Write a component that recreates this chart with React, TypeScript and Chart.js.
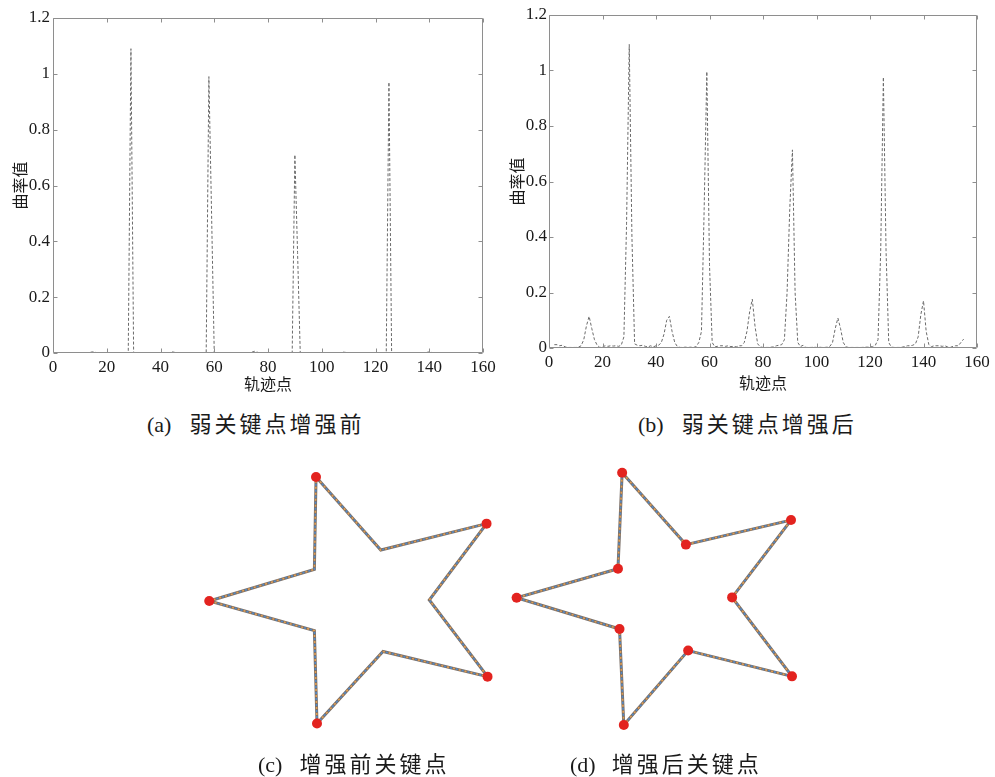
import React, { useEffect, useRef } from "react";
import { Chart, registerables } from "chart.js";
Chart.register(...registerables);

// ---------- data ----------
const X_TICKS = [0, 20, 40, 60, 80, 100, 120, 140, 160];
const Y_TICKS = [0, 0.2, 0.4, 0.6, 0.8, 1, 1.2];
const X_TITLE = "轨迹点";
const Y_TITLE = "曲率值";

// (a) curvature before enhancement, trajectory points 1..155
const CURVE_A_START = 1;
const CURVE_A = [
  0, 0, 0, 0, 0, 0, 0, 0, 0, 0,
  0, 0, 0, 0.003, 0.004, 0.002, 0, 0, 0, 0,
  0, 0, 0, 0, 0, 0, 0, 0, 1.09, 0,
  0, 0, 0, 0, 0, 0, 0, 0, 0, 0,
  0, 0, 0, 0.004, 0.003, 0, 0, 0, 0, 0,
  0, 0, 0, 0, 0, 0, 0, 0.99, 0.5, 0,
  0, 0, 0, 0, 0, 0, 0, 0, 0, 0,
  0, 0, 0, 0.003, 0.006, 0.003, 0, 0, 0, 0,
  0, 0, 0, 0, 0, 0, 0, 0, 0, 0.71,
  0.36, 0, 0, 0, 0, 0, 0, 0, 0, 0,
  0, 0, 0, 0, 0, 0, 0, 0.003, 0.002, 0,
  0, 0, 0, 0, 0, 0, 0, 0, 0, 0,
  0, 0, 0, 0, 0.97, 0, 0, 0, 0, 0,
  0, 0, 0, 0, 0, 0, 0, 0, 0.002, 0.004,
  0.002, 0, 0, 0, 0, 0, 0, 0, 0, 0,
  0, 0, 0, 0, 0,
];

// (b) curvature after enhancement, trajectory points 2..155
const CURVE_B_START = 2;
const CURVE_B = [
  0.012, 0.012, 0.008, 0.01, 0.004, 0.002, 0.002, 0.002, 0.002, 0.003,
  0.008, 0.03, 0.08, 0.114, 0.07, 0.03, 0.01, 0.002, 0.004, 0.008,
  0.006, 0.008, 0.007, 0.008, 0.006, 0.01, 0.04, 0.45, 1.094, 0.4,
  0.015, 0.01, 0.008, 0.01, 0.006, 0.004, 0.008, 0.004, 0.008, 0.01,
  0.02, 0.05, 0.1, 0.114, 0.06, 0.02, 0.005, 0.002, 0.002, 0.003,
  0.002, 0.003, 0.002, 0.005, 0.02, 0.06, 0.5, 0.996, 0.3, 0.02,
  0.004, 0.006, 0.008, 0.008, 0.006, 0.008, 0.005, 0.006, 0.004, 0.008,
  0.008, 0.02, 0.06, 0.13, 0.176, 0.08, 0.015, 0.004, 0.002, 0.002,
  0.002, 0.003, 0.004, 0.008, 0.01, 0.012, 0.03, 0.2, 0.5, 0.714,
  0.2, 0.02, 0.005, 0.01, 0.002, 0.002, 0.002, 0.003, 0.002, 0.003,
  0.002, 0.002, 0.003, 0.006, 0.02, 0.07, 0.108, 0.07, 0.02, 0.004,
  0.002, 0.002, 0.002, 0.002, 0.002, 0.002, 0.003, 0.003, 0.004, 0.005,
  0.01, 0.03, 0.35, 0.976, 0.35, 0.02, 0.003, 0.002, 0.002, 0.002,
  0.003, 0.005, 0.008, 0.008, 0.01, 0.015, 0.04, 0.12, 0.17, 0.06,
  0.012, 0.005, 0.008, 0.008, 0.008, 0.006, 0.008, 0.004, 0.002, 0.006,
  0.008, 0.008, 0.02, 0.032,
];

// star outlines (shape coordinates, y downward), vertices in order
const STAR_C_X = [135, 201.7, 310.7, 251.7, 311.7, 204, 136, 133.3, 25, 133.3];
const STAR_C_Y = [22.7, 98.3, 71, 150, 229.3, 203.3, 277.7, 181.7, 151, 118.3];
const STAR_C_KEYS = [0, 2, 4, 6, 8];

const STAR_D_X = [131, 196.7, 305, 244.3, 306, 199, 132.7, 128.3, 22.3, 126.7];
const STAR_D_Y = [18.3, 92.7, 67.3, 147.3, 229, 202.3, 279.3, 180, 147.7, 117.7];
const STAR_D_KEYS = [0, 1, 2, 3, 4, 5, 6, 7, 8, 9];

const CAPTIONS = [
  { tag: "(a)", text: "弱关键点增强前" },
  { tag: "(b)", text: "弱关键点增强后" },
  { tag: "(c)", text: "增强前关键点" },
  { tag: "(d)", text: "增强后关键点" },
];

// ---------- styling ----------
const SERIF = "'Liberation Serif', 'Times New Roman', serif";
const CJK = "'Noto Sans CJK SC', 'Noto Sans', sans-serif";

const framePlugin = {
  id: "frame",
  afterDatasetsDraw(chart: any) {
    const { ctx, chartArea: a, scales } = chart;
    const L = Math.round(a.left) + 0.5;
    const R = Math.round(a.right) - 0.5;
    const T = Math.round(a.top) + 0.5;
    const B = Math.round(a.bottom) - 0.5;
    const len = 4;
    ctx.save();
    ctx.strokeStyle = "#8e8e8e";
    ctx.lineWidth = 1;
    ctx.setLineDash([]);
    ctx.beginPath();
    ctx.rect(L, T, R - L, B - T);
    scales.x.ticks.forEach((t: any) => {
      const p = Math.round(scales.x.getPixelForValue(t.value)) + 0.5;
      ctx.moveTo(p, B);
      ctx.lineTo(p, B - len);
      ctx.moveTo(p, T);
      ctx.lineTo(p, T + len);
    });
    scales.y.ticks.forEach((t: any) => {
      const p = Math.round(scales.y.getPixelForValue(t.value)) + 0.5;
      ctx.moveTo(L, p);
      ctx.lineTo(L + len, p);
      ctx.moveTo(R, p);
      ctx.lineTo(R - len, p);
    });
    ctx.stroke();
    ctx.restore();
  },
};

type CurveProps = {
  left: number;
  top: number;
  width: number;
  height: number;
  start: number;
  values: number[];
  pad: { top: number; right: number; bottom: number };
  yWidth: number;
  xHeight: number;
  yTitlePad: number;
  xTitlePad: number;
  yTickPad: number;
  xTickPad: number;
  lineColor: string;
};

function CurveChart(p: CurveProps) {
  const ref = useRef<HTMLCanvasElement>(null);
  useEffect(() => {
    if (!ref.current) return;
    const pts = p.values.map((v, i) => ({ x: p.start + i, y: v }));
    const tickFont = { family: SERIF, size: 17 };
    const titleFont = { family: CJK, size: 16 };
    const chart = new Chart(ref.current, {
      type: "line",
      data: {
        datasets: [
          {
            data: pts,
            borderColor: p.lineColor,
            borderWidth: 1,
            borderDash: [3, 2],
            pointRadius: 0,
            tension: 0,
            fill: false,
          },
        ],
      },
      options: {
        animation: false,
        responsive: false,
        maintainAspectRatio: false,
        layout: { padding: { top: p.pad.top, right: p.pad.right, bottom: p.pad.bottom, left: 0 } },
        plugins: { legend: { display: false }, tooltip: { enabled: false } },
        scales: {
          x: {
            type: "linear",
            min: 0,
            max: 160,
            afterBuildTicks: (s: any) => {
              s.ticks = X_TICKS.map((v) => ({ value: v }));
            },
            ticks: {
              font: tickFont,
              color: "#1a1a1a",
              padding: p.xTickPad,
              maxRotation: 0,
              autoSkip: false,
              callback: (v: any) => String(v),
            },
            grid: { display: false, drawTicks: false },
            border: { display: false },
            title: {
              display: true,
              text: X_TITLE,
              font: titleFont,
              color: "#1a1a1a",
              padding: { top: 0, bottom: p.xTitlePad },
            },
            afterFit: (s: any) => {
              s.height = p.xHeight;
            },
          },
          y: {
            type: "linear",
            min: 0,
            max: 1.2,
            afterBuildTicks: (s: any) => {
              s.ticks = Y_TICKS.map((v) => ({ value: v }));
            },
            ticks: {
              font: tickFont,
              color: "#1a1a1a",
              padding: p.yTickPad,
              autoSkip: false,
              callback: (v: any) => String(v),
            },
            grid: { display: false, drawTicks: false },
            border: { display: false },
            title: {
              display: true,
              text: Y_TITLE,
              font: titleFont,
              color: "#1a1a1a",
              padding: { top: p.yTitlePad, bottom: 0 },
            },
            afterFit: (s: any) => {
              s.width = p.yWidth;
            },
          },
        },
      },
      plugins: [framePlugin],
    } as any);
    return () => chart.destroy();
  }, []);
  return (
    <canvas
      ref={ref}
      width={p.width}
      height={p.height}
      style={{ position: "absolute", left: p.left, top: p.top, width: p.width, height: p.height }}
    />
  );
}

type StarProps = {
  left: number;
  top: number;
  width: number;
  height: number;
  xs: number[];
  ys: number[];
  keys: number[];
};

function StarChart(p: StarProps) {
  const ref = useRef<HTMLCanvasElement>(null);
  useEffect(() => {
    if (!ref.current) return;
    const outline = p.xs.map((x, i) => ({ x, y: p.ys[i] }));
    outline.push({ x: p.xs[0], y: p.ys[0] });
    const keyPts = p.keys.map((k) => ({ x: p.xs[k], y: p.ys[k] }));
    const lineBase = { showLine: true, pointRadius: 0, tension: 0, fill: false };
    const chart = new Chart(ref.current, {
      type: "scatter",
      data: {
        datasets: [
          {
            data: keyPts,
            showLine: false,
            pointRadius: 5,
            pointBackgroundColor: "#e3231f",
            pointBorderColor: "#e3231f",
            pointBorderWidth: 0,
            order: 0,
          },
          {
            ...lineBase,
            data: outline,
            borderColor: "rgba(80,140,205,0.95)",
            borderWidth: 1.6,
            borderDash: [2, 4],
            borderDashOffset: 3,
            order: 1,
          },
          {
            ...lineBase,
            data: outline,
            borderColor: "rgba(232,160,80,0.95)",
            borderWidth: 1.6,
            borderDash: [2, 4],
            order: 2,
          },
          {
            ...lineBase,
            data: outline,
            borderColor: "#7c7068",
            borderWidth: 3,
            order: 3,
          },
        ],
      },
      options: {
        animation: false,
        responsive: false,
        maintainAspectRatio: false,
        layout: { padding: 0 },
        plugins: { legend: { display: false }, tooltip: { enabled: false } },
        scales: {
          x: { type: "linear", min: 0, max: p.width, display: false },
          y: { type: "linear", min: 0, max: p.height, reverse: true, display: false },
        },
      },
    } as any);
    return () => chart.destroy();
  }, []);
  return (
    <canvas
      ref={ref}
      width={p.width}
      height={p.height}
      style={{ position: "absolute", left: p.left, top: p.top, width: p.width, height: p.height }}
    />
  );
}

function Caption({ left, top, tag, text, gap }: { left: number; top: number; tag: string; text: string; gap: number }) {
  return (
    <div
      style={{
        position: "absolute",
        left,
        top,
        fontSize: 22,
        lineHeight: "26px",
        whiteSpace: "nowrap",
        color: "#1a1a1a",
      }}
    >
      <span style={{ fontFamily: SERIF }}>{tag}</span>
      <span style={{ fontFamily: CJK, marginLeft: gap, letterSpacing: 3 }}>{text}</span>
    </div>
  );
}

export default function App() {
  return (
    <div style={{ position: "absolute", left: 0, top: 0, width: 995, height: 777, background: "#fff", overflow: "hidden" }}>
      <CurveChart
        left={0}
        top={0}
        width={507}
        height={400}
        start={CURVE_A_START}
        values={CURVE_A}
        pad={{ top: 18, right: 24, bottom: 2 }}
        yWidth={53}
        xHeight={45}
        yTitlePad={10}
        xTitlePad={4}
        yTickPad={3}
        xTickPad={4}
        lineColor="#6a6a6a"
      />
      <CurveChart
        left={495}
        top={0}
        width={506}
        height={400}
        start={CURVE_B_START}
        values={CURVE_B}
        pad={{ top: 15, right: 24, bottom: 7 }}
        yWidth={54}
        xHeight={45}
        yTitlePad={12}
        xTitlePad={0}
        yTickPad={2}
        xTickPad={4}
        lineColor="#6a6a6a"
      />
      <StarChart left={180} top={450} width={340} height={300} xs={STAR_C_X} ys={STAR_C_Y} keys={STAR_C_KEYS} />
      <StarChart left={490} top={450} width={340} height={300} xs={STAR_D_X} ys={STAR_D_Y} keys={STAR_D_KEYS} />
      <Caption left={147} top={409} tag={CAPTIONS[0].tag} text={CAPTIONS[0].text} gap={18} />
      <Caption left={638} top={409} tag={CAPTIONS[1].tag} text={CAPTIONS[1].text} gap={18} />
      <Caption left={258} top={749} tag={CAPTIONS[2].tag} text={CAPTIONS[2].text} gap={17} />
      <Caption left={570} top={749} tag={CAPTIONS[3].tag} text={CAPTIONS[3].text} gap={16} />
    </div>
  );
}
